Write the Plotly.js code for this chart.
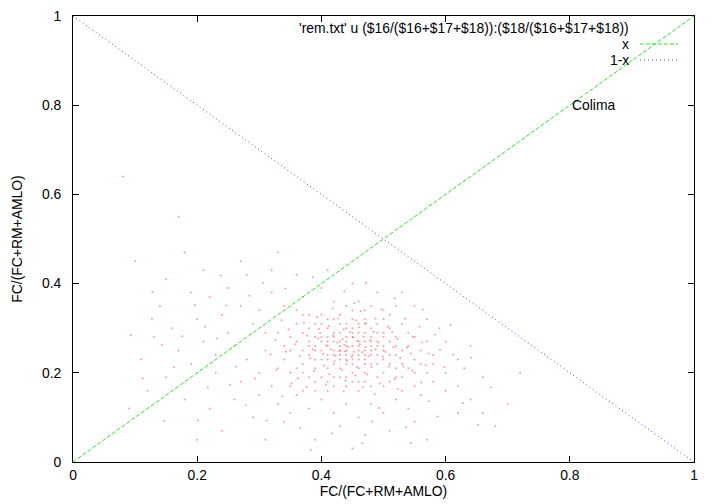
<!DOCTYPE html>
<html>
<head>
<meta charset="utf-8">
<script src="https://cdn.plot.ly/plotly-3.0.1.min.js"></script>
<style>html,body{margin:0;padding:0;background:#fff;}#plot{width:720px;height:504px;}</style>
</head>
<body>
<div id="plot"></div>
<script>
// Scatter cloud: x = FC/(FC+RM+AMLO), y = ratio of column 18
var ptsX = [0.41,0.43,0.45,0.47,0.44,0.42,0.46,0.48,0.50,0.39,0.40,0.44,0.47,0.49,0.51,0.52,0.43,0.38,0.37,0.45,0.46,0.42,0.44,0.48,0.50,0.53,0.41,0.39,0.36,0.45,0.47,0.43,0.49,0.51,0.46,0.42,0.40,0.44,0.48,0.45,0.47,0.43,0.41,0.39,0.50,0.52,0.54,0.55,0.49,0.46,0.44,0.42,0.40,0.38,0.37,0.35,0.45,0.47,0.43,0.41,0.48,0.46,0.44,0.42,0.40,0.50,0.52,0.53,0.51,0.49,0.47,0.45,0.43,0.41,0.39,0.46,0.48,0.44,0.42,0.40,0.45,0.38,0.36,0.37,0.35,0.34,0.50,0.52,0.54,0.56,0.55,0.53,0.51,0.48,0.46,0.44,0.42,0.40,0.38,0.36,0.47,0.43,0.45,0.41,0.49,0.44,0.46,0.42,0.48,0.50,0.47,0.43,0.45,0.41,0.39,0.47,0.49,0.51,0.44,0.46,0.42,0.40,0.38,0.44,0.48,0.50,0.46,0.43,0.41,0.39,0.37,0.45,0.47,0.49,0.51,0.53,0.55,0.57,0.56,0.54,0.52,0.50,0.47,0.45,0.43,0.41,0.39,0.37,0.35,0.34,0.33,0.36,0.44,0.48,0.52,0.42,0.46,0.50,
0.08,0.17,0.10,0.15,0.19,0.22,0.25,0.27,0.30,0.32,0.29,0.24,0.20,0.16,0.13,0.21,0.26,0.28,0.31,0.30,0.27,0.23,0.19,0.15,0.12,0.18,0.22,0.26,0.29,0.24,0.20,0.31,0.33,0.32,0.34,0.36,0.38,0.40,0.42,0.44,0.46,0.48,0.50,0.52,0.54,0.56,0.58,0.60,0.62,0.64,0.66,0.68,0.58,0.60,0.62,0.59,0.57,0.55,0.53,0.49,0.45,0.40,0.37,0.34,0.36,0.32,0.28,0.41,0.43,0.47,0.39,0.51,0.55,0.45,0.57,0.62,0.70,0.72,0.66,0.64,0.35,0.30,0.25,0.23,0.17,0.14,0.11,0.09,0.27,0.21,0.18,0.33,0.38,0.31,0.33,0.35,0.37,0.39,0.41,0.53,0.55,0.57,0.58,0.60,0.63,
0.437,0.452,0.468,0.423,0.481,0.395,0.412,0.456,0.503,0.527,0.386,0.433,0.474,0.458,0.419,0.446,0.492,0.514,0.538,0.365,0.377,0.404,0.427,0.463,0.487,0.471,0.449,0.434,0.415,0.396,0.509,0.523,0.544,0.562,0.476,0.457,0.438,0.484,0.461,0.426,0.408,0.382,0.357,0.347,0.372,0.393,0.418,0.453,0.497,0.535,0.558,0.573,0.546,0.518,0.494,0.467,0.439,0.413,0.388,0.362,0.343,0.326,0.443,0.462,0.478,0.429,0.451,0.487,0.466,0.441,0.421,0.403,0.499,0.516,0.532,0.455,0.472,0.436,0.398,0.507,0.547,0.568,0.591,0.583,0.336,0.318,0.327,0.352,0.376,0.407,0.436,0.486,0.523,0.561,0.612,0.598,
0.284,0.247,0.213,0.176,0.143,0.232,0.262,0.293,0.217,0.163,0.127,0.196,0.238,0.306,0.342,0.386,0.437,0.472,0.518,0.563,0.608,0.641,0.673,0.628,0.587,0.536,0.482,0.417,0.366,0.312,0.278,0.253,0.337,0.493,0.573,0.652,0.466,0.383,0.544,0.147,0.201,0.112,0.093,0.128];
var ptsY = [0.28,0.26,0.24,0.27,0.30,0.22,0.21,0.25,0.23,0.26,0.31,0.19,0.31,0.29,0.27,0.24,0.33,0.24,0.29,0.28,0.25,0.27,0.23,0.22,0.20,0.22,0.24,0.21,0.27,0.32,0.34,0.29,0.26,0.30,0.18,0.19,0.25,0.27,0.28,0.20,0.23,0.21,0.30,0.28,0.32,0.28,0.26,0.23,0.19,0.29,0.25,0.24,0.23,0.27,0.22,0.25,0.26,0.25,0.27,0.26,0.24,0.23,0.22,0.29,0.28,0.25,0.21,0.25,0.22,0.24,0.20,0.22,0.24,0.21,0.23,0.27,0.30,0.31,0.32,0.33,0.34,0.30,0.31,0.25,0.28,0.23,0.28,0.26,0.29,0.25,0.20,0.19,0.18,0.17,0.16,0.17,0.17,0.19,0.19,0.21,0.29,0.25,0.30,0.27,0.27,0.28,0.26,0.25,0.26,0.26,0.22,0.23,0.23,0.23,0.25,0.24,0.22,0.24,0.24,0.24,0.28,0.27,0.26,0.26,0.27,0.29,0.31,0.31,0.32,0.31,0.33,0.29,0.32,0.31,0.33,0.31,0.28,0.27,0.22,0.21,0.19,0.17,0.18,0.18,0.19,0.18,0.18,0.20,0.20,0.26,0.29,0.34,0.35,0.35,0.35,0.36,0.36,0.34,
0.64,0.55,0.45,0.41,0.38,0.37,0.39,0.35,0.34,0.38,0.31,0.33,0.32,0.30,0.28,0.27,0.26,0.23,0.25,0.20,0.18,0.20,0.22,0.19,0.16,0.14,0.12,0.14,0.10,0.07,0.05,0.05,0.13,0.17,0.09,0.15,0.12,0.14,0.11,0.13,0.10,0.13,0.11,0.14,0.12,0.15,0.18,0.20,0.17,0.14,0.11,0.08,0.24,0.27,0.23,0.30,0.32,0.35,0.38,0.38,0.40,0.39,0.37,0.35,0.42,0.43,0.42,0.43,0.08,0.06,0.05,0.07,0.09,0.03,0.05,0.11,0.13,0.20,0.19,0.26,0.11,0.15,0.29,0.24,0.25,0.35,0.23,0.12,0.45,0.43,0.47,0.47,0.33,0.29,0.21,0.17,0.16,0.16,0.16,0.16,0.17,0.20,0.22,0.16,0.21,
0.263,0.247,0.281,0.238,0.213,0.277,0.305,0.318,0.247,0.233,0.253,0.207,0.196,0.272,0.284,0.291,0.268,0.291,0.257,0.238,0.283,0.216,0.322,0.338,0.322,0.258,0.236,0.276,0.253,0.298,0.214,0.276,0.243,0.268,0.237,0.213,0.248,0.292,0.302,0.268,0.262,0.232,0.264,0.297,0.312,0.325,0.344,0.356,0.343,0.322,0.303,0.243,0.205,0.186,0.176,0.168,0.183,0.197,0.204,0.187,0.247,0.273,0.258,0.264,0.273,0.249,0.279,0.253,0.246,0.227,0.226,0.242,0.236,0.258,0.214,0.194,0.311,0.297,0.289,0.304,0.281,0.217,0.251,0.286,0.318,0.241,0.207,0.176,0.168,0.173,0.158,0.152,0.163,0.178,0.241,0.213,
0.373,0.351,0.303,0.282,0.263,0.277,0.214,0.187,0.167,0.213,0.321,0.352,0.418,0.402,0.389,0.414,0.383,0.402,0.367,0.342,0.308,0.234,0.167,0.132,0.102,0.078,0.091,0.064,0.077,0.093,0.127,0.173,0.147,0.121,0.136,0.083,0.042,0.027,0.043,0.092,0.093,0.187,0.284,0.382];

var lineX = [0, 1];
var lineUp = [0, 1];
var lineDown = [1, 0];

var xTicks = [0, 0.2, 0.4, 0.6, 0.8, 1];
var xTickText = ['0', '0.2', '0.4', '0.6', '0.8', '1'];
var yTicks = [0, 0.2, 0.4, 0.6, 0.8, 1];
var yTickText = ['0', '0.2', '0.4', '0.6', '0.8', '1'];

var legendLabels = ["'rem.txt' u ($16/($16+$17+$18)):($18/($16+$17+$18))", 'x', '1-x'];
var labelText = 'Colima';

var font = 'Liberation Sans, Arial, Helvetica, sans-serif';
var fs = 13.9;
var legRows = [28, 44, 60]; // legend row centres, px from top

function py(p) { return (462 - p) / 446; }
function px(p) { return (p - 73) / 621; }

var traces = [
  {x: ptsX, y: ptsY, type: 'scatter', mode: 'markers', name: legendLabels[0],
   marker: {color: 'rgba(255,60,60,0.5)', size: 2, line: {width: 0}}, hoverinfo: 'x+y'},
  {x: lineX, y: lineUp, type: 'scatter', mode: 'lines', name: legendLabels[1],
   line: {color: '#33dd33', width: 1, dash: '4px,2px'}},
  {x: lineX, y: lineDown, type: 'scatter', mode: 'lines', name: legendLabels[2],
   line: {color: '#4444ff', width: 1, dash: '1px,3px'}},
  // empty trace so the tick-only axis yaxis2 is drawn
  {x: [], y: [], yaxis: 'y2', type: 'scatter', mode: 'markers', showlegend: false, hoverinfo: 'skip'}
];

var layout = {
  width: 720, height: 504,
  margin: {l: 73, r: 26, t: 16, b: 42},
  paper_bgcolor: '#fff', plot_bgcolor: '#fff',
  showlegend: false,
  font: {family: font, size: fs, color: '#000'},
  xaxis: {range: [0, 1], showgrid: false, zeroline: false, showline: true, linecolor: '#000', linewidth: 1,
     mirror: 'ticks', ticks: 'inside', ticklen: 6, tickcolor: '#000', tickvals: xTicks, ticktext: xTickText,
     tickfont: {family: font, size: fs, color: '#000'}, fixedrange: true,
     title: {text: 'FC/(FC+RM+AMLO)', font: {family: font, size: fs}, standoff: 4}},
  yaxis: {range: [0, 1], showgrid: false, zeroline: false, showline: true, linecolor: '#000', linewidth: 1, mirror: true,
     ticks: 'outside', ticklen: 8, tickcolor: 'rgba(0,0,0,0)', tickvals: yTicks, ticktext: yTickText,
     tickfont: {family: font, size: fs, color: '#000'}, fixedrange: true,
     title: {text: 'FC/(FC+RM+AMLO)', font: {family: font, size: fs}, standoff: 16}},
  yaxis2: {range: [0, 1], overlaying: 'y', side: 'left', anchor: 'x', showgrid: false, zeroline: false, showline: false,
     mirror: 'ticks', ticks: 'inside', ticklen: 6, tickcolor: '#000', tickvals: yTicks, showticklabels: false, fixedrange: true},
  annotations: [
    {xref: 'paper', yref: 'paper', x: px(631), y: py(legRows[0]), text: legendLabels[0], showarrow: false, xanchor: 'right', yanchor: 'middle', font: {family: font, size: fs}},
    {xref: 'paper', yref: 'paper', x: px(631), y: py(legRows[1]), text: legendLabels[1], showarrow: false, xanchor: 'right', yanchor: 'middle', font: {family: font, size: fs}},
    {xref: 'paper', yref: 'paper', x: px(631), y: py(legRows[2]), text: legendLabels[2], showarrow: false, xanchor: 'right', yanchor: 'middle', font: {family: font, size: fs}},
    {xref: 'x', yref: 'y', x: 0.80, y: 0.80, text: labelText, showarrow: false, xanchor: 'left', yanchor: 'middle', font: {family: font, size: fs}}
  ],
  shapes: [
    {type: 'line', xref: 'paper', yref: 'paper', x0: px(640), x1: px(678), y0: py(legRows[1]), y1: py(legRows[1]), line: {color: '#33dd33', width: 1, dash: '4px,2px'}},
    {type: 'line', xref: 'paper', yref: 'paper', x0: px(640), x1: px(678), y0: py(legRows[2]), y1: py(legRows[2]), line: {color: '#4444ff', width: 1, dash: '1px,3px'}}
  ]
};

Plotly.newPlot('plot', traces, layout, {displayModeBar: false, staticPlot: true});
</script>
</body>
</html>
